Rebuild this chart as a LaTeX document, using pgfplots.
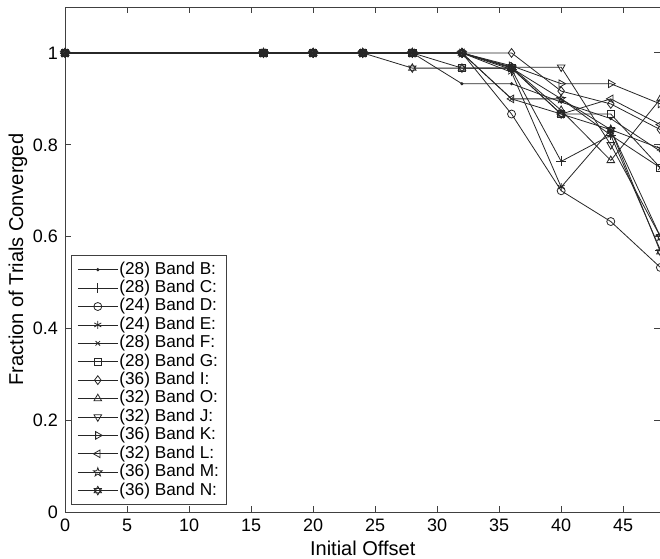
\documentclass[border=0pt]{standalone}
\usepackage{fontspec}
\setmainfont{Liberation Sans}
\usepackage{pgfplots}
\usepackage{pgfplotstable}
\pgfplotsset{compat=1.18}
\usetikzlibrary{plotmarks}

\pgfdeclareplotmark{pentagram}{%
  \pgfpathmoveto{\pgfpointpolar{90}{1.25\pgfplotmarksize}}%
  \pgfpathlineto{\pgfpointpolar{126}{0.5\pgfplotmarksize}}%
  \pgfpathlineto{\pgfpointpolar{162}{1.25\pgfplotmarksize}}%
  \pgfpathlineto{\pgfpointpolar{198}{0.5\pgfplotmarksize}}%
  \pgfpathlineto{\pgfpointpolar{234}{1.25\pgfplotmarksize}}%
  \pgfpathlineto{\pgfpointpolar{270}{0.5\pgfplotmarksize}}%
  \pgfpathlineto{\pgfpointpolar{306}{1.25\pgfplotmarksize}}%
  \pgfpathlineto{\pgfpointpolar{342}{0.5\pgfplotmarksize}}%
  \pgfpathlineto{\pgfpointpolar{18}{1.25\pgfplotmarksize}}%
  \pgfpathlineto{\pgfpointpolar{54}{0.5\pgfplotmarksize}}%
  \pgfpathclose\pgfusepathqstroke}
\pgfdeclareplotmark{hexagram}{%
  \pgfpathmoveto{\pgfpointpolar{90}{1.2\pgfplotmarksize}}%
  \pgfpathlineto{\pgfpointpolar{210}{1.2\pgfplotmarksize}}%
  \pgfpathlineto{\pgfpointpolar{330}{1.2\pgfplotmarksize}}%
  \pgfpathclose
  \pgfpathmoveto{\pgfpointpolar{270}{1.2\pgfplotmarksize}}%
  \pgfpathlineto{\pgfpointpolar{30}{1.2\pgfplotmarksize}}%
  \pgfpathlineto{\pgfpointpolar{150}{1.2\pgfplotmarksize}}%
  \pgfpathclose\pgfusepathqstroke}

\pgfplotstableread{
x  B     C     D     E     F     G     I     O     J     K     L     M     N
0  1     1     1     1     1     1     1     1     1     1     1     1     1
16 1     1     1     1     1     1     1     1     1     1     1     1     1
20 1     1     1     1     1     1     1     1     1     1     1     1     1
24 1     1     1     1     1     1     1     1     1     1     1     1     1
28 1     1     1     1     1     1     1     1     1     1     1     1     0.967
32 0.933 1     1     1     1     0.967 1     1     1     1     1     1     0.967
36 0.933 0.964 0.867 0.958 0.9   0.967 1     0.969 0.969 0.972 0.9   0.967 0.967
40 0.893 0.764 0.7   0.708 0.9   0.867 0.917 0.875 0.969 0.933 0.867 0.9   0.867
44 0.857 0.821 0.633 0.833 0.821 0.867 0.889 0.766 0.8   0.933 0.9   0.833 0.833
48 0.786 0.571 0.533 0.792 0.75  0.75  0.833 0.9   0.6   0.889 0.844 0.6   0.567
}\data

\tikzset{s/.style={black!85, line width=0.4pt, mark size=2pt, mark options={solid}}}

\begin{document}
\begin{tikzpicture}
\useasboundingbox (-32.5pt,-23pt) rectangle (297.3pt,256pt);
\begin{axis}[
  scale only axis,
  width=297.5pt, height=252.5pt,
  xmin=0, xmax=48, ymin=0, ymax=1.1,
  xtick={0,5,10,15,20,25,30,35,40,45},
  ytick={0,0.2,0.4,0.6,0.8,1},
  tick align=inside,
  major tick length=3pt,
  axis line style={black!75, line width=0.5pt},
  tick style={black!75, line width=0.5pt},
  /pgf/number format/assume math mode=true,
  tick label style={font=\fontsize{9}{10}\selectfont},
  label style={font=\fontsize{10}{12}\selectfont},
  xlabel={Initial Offset},
  ylabel={Fraction of Trials Converged},
  xlabel style={yshift=2.5pt},
  ylabel style={yshift=-4pt},
  legend cell align=left,
  legend image code/.code={\draw[mark repeat=2,mark phase=2] plot coordinates {(0pt,0pt) (10pt,0pt) (20pt,0pt)};},
  legend style={at={(0.01,0.014)}, anchor=south west, draw=black!75, line width=0.4pt,
    font=\fontsize{8.6}{9}\selectfont, row sep=0pt, inner xsep=3pt, inner ysep=2.5pt,
    nodes={inner sep=0.6pt, text height=6.2pt, text depth=1.8pt}},
]
\addplot[s, mark=*, mark size=0.6pt] table[x=x,y=B]{\data};
\addlegendentry{(28) Band B:}
\addplot[s, mark=+, mark size=2.5pt] table[x=x,y=C]{\data};
\addlegendentry{(28) Band C:}
\addplot[s, mark=o] table[x=x,y=D]{\data};
\addlegendentry{(24) Band D:}
\addplot[s, mark=asterisk] table[x=x,y=E]{\data};
\addlegendentry{(24) Band E:}
\addplot[s, mark=x, mark size=1.6pt] table[x=x,y=F]{\data};
\addlegendentry{(28) Band F:}
\addplot[s, mark=square, mark size=1.8pt] table[x=x,y=G]{\data};
\addlegendentry{(28) Band G:}
\addplot[s, mark=diamond, mark size=2.2pt] table[x=x,y=I]{\data};
\addlegendentry{(36) Band I:}
\addplot[s, mark=triangle, mark size=2.2pt] table[x=x,y=O]{\data};
\addlegendentry{(32) Band O:}
\addplot[s, mark=triangle, mark size=2.2pt, mark options={solid, rotate=180}] table[x=x,y=J]{\data};
\addlegendentry{(32) Band J:}
\addplot[s, mark=triangle, mark size=2.2pt, mark options={solid, rotate=-90}] table[x=x,y=K]{\data};
\addlegendentry{(36) Band K:}
\addplot[s, mark=triangle, mark size=2.2pt, mark options={solid, rotate=90}] table[x=x,y=L]{\data};
\addlegendentry{(32) Band L:}
\addplot[s, mark=pentagram, mark size=1.8pt] table[x=x,y=M]{\data};
\addlegendentry{(36) Band M:}
\addplot[s, mark=hexagram, mark size=1.8pt] table[x=x,y=N]{\data};
\addlegendentry{(36) Band N:}
\end{axis}
\end{tikzpicture}
\end{document}
